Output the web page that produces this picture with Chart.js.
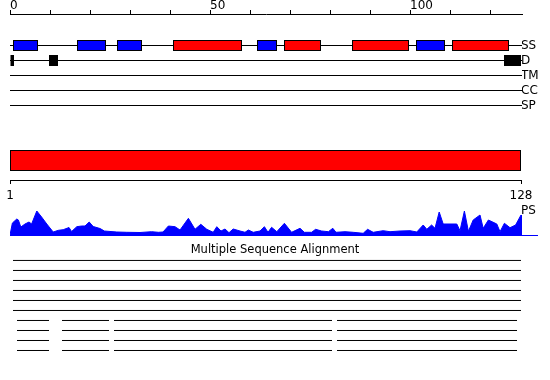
<!DOCTYPE html>
<html>
<head>
<meta charset="utf-8">
<title>Sequence features</title>
<script src="https://cdn.jsdelivr.net/npm/chart.js@4.4.1/dist/chart.umd.min.js"></script>
<style>
	html, body { margin: 0; padding: 0; background: #fff; }
	body { width: 550px; height: 380px; position: relative; overflow: hidden; }
	canvas { position: absolute; left: 0; }
</style>
</head>
<body>
<canvas id="tracks" width="550" height="127" style="top:0px"></canvas>
<canvas id="domain" width="550" height="64" style="top:140px"></canvas>
<canvas id="ps" width="550" height="46" style="top:198px"></canvas>
<canvas id="msa" width="550" height="120" style="top:240px"></canvas>
<script>
// sequence
const seqLength = 128;
const rulerTicks = [1, 128];

// feature tracks, top to bottom
const trackNames = ['SS', 'D', 'TM', 'CC', 'SP'];

// secondary structure (H = helix, E = strand)
const ssStart = [0.75, 16.75, 26.75, 40.75, 61.75, 68.5, 85.5, 101.5, 110.5];
const ssEnd = [7, 24, 33, 58, 66.75, 77.75, 99.75, 108.75, 124.75];
const ssType = ['E', 'E', 'E', 'H', 'E', 'H', 'H', 'E', 'H'];

// disordered regions
const disStart = [0, 9.75, 123.5];
const disEnd = [1, 12, 127.75];

// domain
const domainStart = 1;
const domainEnd = 128;

// PS profile (position, score)
const psPos = [0, 0.6, 1.7, 2.1, 2.7, 3.75, 4.75, 5.4, 6.7, 7.9, 9.2, 10.8, 12.1, 13.3, 14.75, 15.4, 16.7, 17.9, 18.75, 19.8, 20.8, 22.5, 23.6, 26.7, 29.2, 32.5, 35.4, 37.1, 38.25, 39.6, 41.25, 42.5, 44.6, 46.25, 47.7, 49.2, 50.8, 51.7, 52.75, 53.75, 54.75, 55.8, 57.5, 58.75, 59.6, 60.8, 62.5, 63.6, 64.5, 65.4, 66.7, 68.6, 70.4, 72.5, 73.6, 75.4, 76.4, 77.9, 79.6, 80.7, 81.5, 83.75, 85.8, 88.3, 89.4, 90.8, 93.3, 95, 97.5, 100, 101.7, 103.3, 104.2, 105.4, 106.25, 107.3, 108.3, 111.7, 112.5, 113.6, 114.6, 115.8, 117.5, 118.3, 119.6, 121.7, 122.5, 123.6, 125, 126.4, 127.75, 128];
const psVal = [1, 13, 17, 16, 9, 12, 14, 12, 25, 19, 12, 4, 5.7, 6.3, 8.5, 4.5, 9.3, 10, 10, 14, 9.5, 7.5, 5, 4, 3.7, 3.5, 4.3, 3.7, 4, 10, 9.3, 6, 17.7, 6.7, 11.7, 6.7, 3.7, 9.3, 5, 7, 3.3, 7, 5, 3.7, 6, 3.7, 5, 9.3, 3.7, 8.7, 4.3, 12.7, 3.7, 7.7, 3.7, 3.7, 6.7, 5, 4.3, 7.7, 3.7, 4.3, 3.7, 2.7, 6.7, 3.7, 5.3, 4.3, 5, 5.3, 4, 11, 6.7, 11, 7.7, 24, 12, 12, 5.3, 25, 4.7, 16, 21, 7.7, 16, 12, 4.3, 12.7, 8.3, 11, 21, 20];
const psBaselineEnd = 132;

// multiple sequence alignment: covered segments per row
const msaRows = [
	[[0.75, 127.75]],
	[[0.75, 127.75]],
	[[0.75, 127.75]],
	[[0.75, 127.75]],
	[[0.75, 127.75]],
	[[0.75, 127.75]],
	[[1.75, 9.75], [13, 24.75], [26, 80.5], [81.75, 126.75]],
	[[1.75, 9.75], [13, 24.75], [26, 80.5], [81.75, 126.75]],
	[[1.75, 9.75], [13, 24.75], [26, 80.5], [81.75, 126.75]],
	[[1.75, 9.75], [13, 24.75], [26, 80.5], [81.75, 126.75]],
];

const RED = '#ff0000';
const BLUE = '#0000ff';

Chart.defaults.font.family = "'DejaVu Sans', sans-serif";
Chart.defaults.font.size = 12;
Chart.defaults.color = '#000';
Chart.defaults.animation = false;
Chart.defaults.responsive = false;
Chart.defaults.events = [];
Chart.defaults.plugins.legend.display = false;
Chart.defaults.plugins.tooltip.enabled = false;

// ---------- ruler + tracks ----------
const trackLines = trackNames.map((name, i) => ({
	type: 'line',
	label: name,
	data: [{ x: 0, y: i }, { x: seqLength, y: i }],
	borderColor: '#000',
	borderWidth: 1,
	pointRadius: 0,
	order: 2,
}));

new Chart('tracks', {
	type: 'bar',
	data: {
		datasets: [
			{
				type: 'bar',
				label: 'SS',
				indexAxis: 'y',
				data: ssStart.map((s, i) => ({ x: [s, ssEnd[i]], y: 0 })),
				backgroundColor: ssType.map((t) => (t === 'H' ? RED : BLUE)),
				borderColor: '#000',
				borderWidth: 1,
				borderSkipped: false,
				barThickness: 11,
				grouped: false,
				inflateAmount: 0,
				order: 1,
			},
			{
				type: 'bar',
				label: 'D',
				indexAxis: 'y',
				data: disStart.map((s, i) => ({ x: [s, disEnd[i]], y: 1 })),
				backgroundColor: '#000',
				borderWidth: 0,
				barThickness: 11,
				grouped: false,
				inflateAmount: 0,
				order: 1,
			},
			...trackLines,
		],
	},
	options: {
		layout: { padding: { left: 10, right: 0, top: 0, bottom: 8 } },
		scales: {
			x: {
				type: 'linear',
				position: 'top',
				offset: false,
				min: 0,
				max: seqLength,
				afterFit: (s) => {
					s.height = 14;
				},
				ticks: {
					stepSize: 10,
					includeBounds: false,
					autoSkip: false,
					maxRotation: 0,
					align: 'start',
					padding: -2,
					font: { size: 12, lineHeight: 1 },
					callback: (v) => (v % 50 === 0 ? v : ''),
				},
				grid: { offset: false, drawOnChartArea: false, tickLength: 4, color: '#000' },
				border: { color: '#000' },
			},
			y: {
				type: 'linear',
				position: 'right',
				offset: false,
				reverse: true,
				min: -2.1,
				max: 4.9,
				afterFit: (s) => {
					s.width = 28;
				},
				afterBuildTicks: (s) => {
					s.ticks = trackNames.map((n, i) => ({ value: i }));
				},
				ticks: {
					autoSkip: false,
					padding: -1,
					callback: (v) => trackNames[v] ?? '',
				},
				grid: { display: false, drawTicks: false },
				border: { display: false },
			},
		},
	},
});

// ---------- domain bar + position ruler ----------
new Chart('domain', {
	type: 'bar',
	data: {
		datasets: [
			{
				label: 'Domain',
				data: [{ x: [domainStart, domainEnd], y: 0.5 }],
				backgroundColor: RED,
				borderColor: '#000',
				borderWidth: 1,
				borderSkipped: false,
				barThickness: 21,
				grouped: false,
				inflateAmount: 0,
			},
		],
	},
	options: {
		indexAxis: 'y',
		layout: { padding: { left: 10, right: 29, top: 1, bottom: 0 } },
		scales: {
			x: {
				type: 'linear',
				position: 'bottom',
				offset: false,
				min: 1,
				max: seqLength,
				afterFit: (s) => {
					s.height = 24;
				},
				afterBuildTicks: (s) => {
					s.ticks = rulerTicks.map((v) => ({ value: v }));
				},
				ticks: { autoSkip: false, maxRotation: 0, padding: 5 },
				grid: { offset: false, drawOnChartArea: false, tickLength: 4, color: '#000' },
				border: { color: '#000' },
			},
			y: { type: 'linear', offset: false, min: 0, max: 1, display: false },
		},
	},
});

// ---------- PS profile ----------
new Chart('ps', {
	type: 'line',
	data: {
		datasets: [
			{
				label: 'PS',
				data: psPos.map((p, i) => ({ x: p, y: psVal[i] })),
				fill: 'origin',
				backgroundColor: BLUE,
				borderColor: BLUE,
				borderWidth: 1,
				pointRadius: 0,
				tension: 0,
			},
			{
				label: 'baseline',
				data: [{ x: 0, y: 0.5 }, { x: psBaselineEnd, y: 0.5 }],
				borderColor: BLUE,
				borderWidth: 1,
				pointRadius: 0,
				clip: false,
			},
		],
	},
	options: {
		layout: { padding: { left: 10, right: 0, top: 8, bottom: 8 } },
		scales: {
			x: { type: 'linear', min: 0, max: seqLength, display: false },
			y: {
				type: 'linear',
				position: 'right',
				min: 0,
				max: 30,
				afterFit: (s) => {
					s.width = 28;
				},
				afterBuildTicks: (s) => {
					s.ticks = [{ value: 25 }];
				},
				ticks: { padding: -1, callback: () => 'PS' },
				grid: { display: false, drawTicks: false },
				border: { display: false },
			},
		},
	},
});

// ---------- multiple sequence alignment ----------
const msaSets = msaRows.flatMap((segs, row) =>
	segs.map(([s, e]) => ({
		label: 'row ' + (row + 1),
		data: [{ x: s, y: row }, { x: e, y: row }],
		borderColor: '#000',
		borderWidth: 1,
		pointRadius: 0,
	}))
);

new Chart('msa', {
	type: 'line',
	data: { datasets: msaSets },
	options: {
		layout: { padding: { left: 0, right: 0, top: 0, bottom: 2 } },
		plugins: {
			title: {
				display: true,
				text: 'Multiple Sequence Alignment',
				color: '#000',
				font: { size: 11.5, weight: 'normal', lineHeight: 1.3 },
				padding: { top: 3, bottom: 0 },
			},
		},
		scales: {
			x: { type: 'linear', min: 0, max: seqLength, display: false },
			y: {
				type: 'linear',
				position: 'left',
				reverse: true,
				min: -0.25,
				max: 9.75,
				afterFit: (s) => {
					s.width = 10;
				},
				ticks: { display: false },
				grid: { display: false },
				border: { display: false },
			},
			yr: {
				type: 'linear',
				position: 'right',
				afterFit: (s) => {
					s.width = 28;
				},
				ticks: { display: false },
				grid: { display: false },
				border: { display: false },
			},
		},
	},
});
</script>
</body>
</html>
